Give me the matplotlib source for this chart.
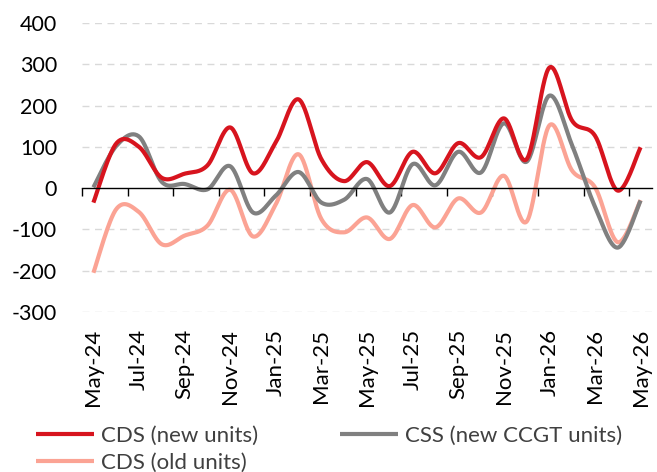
import matplotlib.pyplot as plt
import numpy as np

months = ["May-24", "Jun-24", "Jul-24", "Aug-24", "Sep-24", "Oct-24", "Nov-24", "Dec-24",
          "Jan-25", "Feb-25", "Mar-25", "Apr-25", "May-25", "Jun-25", "Jul-25", "Aug-25",
          "Sep-25", "Oct-25", "Nov-25", "Dec-25", "Jan-26", "Feb-26", "Mar-26", "Apr-26", "May-26"]
cds_new = [-35, 108, 100, 25, 35, 55, 147, 36, 111, 215, 70, 17, 63, 5, 88, 36, 109, 75, 169, 70, 292, 163, 127, -6, 99]
css_new = [2, 102, 125, 15, 10, -3, 53, -59, -18, 39, -35, -28, 22, -59, 58, 7, 88, 38, 157, 64, 224, 103, -45, -144, -30]
cds_old = [-205, -51, -58, -136, -115, -91, -4, -117, -39, 82, -75, -107, -71, -123, -41, -95, -25, -59, 30, -81, 152, 42, 2, -131, -29]


def smooth(y, n=30):
    # excel-like smoothed line (catmull-rom bezier)
    y = np.asarray(y, dtype=float)
    x = np.arange(len(y), dtype=float)
    px = np.concatenate([[x[0]], x, [x[-1]]])
    py = np.concatenate([[y[0]], y, [y[-1]]])
    xs, ys = [], []
    t = np.linspace(0, 1, n)
    for i in range(len(y) - 1):
        p0x, p1x, p2x, p3x = px[i], px[i + 1], px[i + 2], px[i + 3]
        p0y, p1y, p2y, p3y = py[i], py[i + 1], py[i + 2], py[i + 3]
        c1x, c1y = p1x + (p2x - p0x) / 6, p1y + (p2y - p0y) / 6
        c2x, c2y = p2x - (p3x - p1x) / 6, p2y - (p3y - p1y) / 6
        bx = (1 - t) ** 3 * p1x + 3 * (1 - t) ** 2 * t * c1x + 3 * (1 - t) * t ** 2 * c2x + t ** 3 * p2x
        by = (1 - t) ** 3 * p1y + 3 * (1 - t) ** 2 * t * c1y + 3 * (1 - t) * t ** 2 * c2y + t ** 3 * p2y
        xs.append(bx)
        ys.append(by)
    return np.concatenate(xs), np.concatenate(ys)


plt.rcParams['font.family'] = ['Lato', 'DejaVu Sans']
plt.rcParams['axes.unicode_minus'] = False

fig = plt.figure(figsize=(6.57, 4.72), dpi=100)
ax = fig.add_axes([82 / 657, 1 - 312 / 472, 570 / 657, 289 / 472])

for vals, col, lab in [(cds_old, "#FBA394", "CDS (old units)"),
                       (css_new, "#808080", "CSS (new CCGT units)"),
                       (cds_new, "#D7141E", "CDS (new units)")]:
    sx, sy = smooth(vals)
    ax.plot(sx, sy, color=col, lw=3, label=lab, solid_capstyle='butt')

ax.set_xlim(-0.5, len(months) - 0.5)
ax.set_ylim(-300, 400)
ax.set_yticks(range(-300, 401, 100))
for v in range(-300, 401, 100):
    if v != 0:
        ax.axhline(v, color="#D9D9D9", lw=1, ls=(0, (5, 4)), zorder=0)

for s in ["top", "right", "left"]:
    ax.spines[s].set_visible(False)
ax.spines["bottom"].set_position(("data", 0))
ax.spines["bottom"].set_color("black")
ax.spines["bottom"].set_linewidth(1)
ax.set_xticks(np.arange(-0.5, len(months), 2))
ax.tick_params(axis="x", direction="out", length=6, width=1, labelbottom=False)
ax.tick_params(axis="y", length=0, labelsize=15.5, pad=18)

ax2 = ax.twiny()
ax2.set_position(ax.get_position())
ax2.set_xlim(ax.get_xlim())
ax2.xaxis.set_ticks_position("bottom")
ax2.set_xticks(range(0, len(months), 2))
ax2.set_xticklabels(months[::2], rotation=90, fontsize=16)
ax2.tick_params(axis="x", length=0, pad=12)
for s in ax2.spines.values():
    s.set_visible(False)

h, l = ax.get_legend_handles_labels()
# row order: new units, CCGT / old units
order = [2, 0, 1]
fig.legend([h[i] for i in order], [l[i] for i in order], ncol=2, loc="lower left",
           bbox_to_anchor=(0.025, -0.045), frameon=False, fontsize=16,
           handlelength=2.6, handletextpad=0.3, columnspacing=3.7,
           labelspacing=0.35, labelcolor="#404040")

fig.savefig("out.png", dpi=100)
